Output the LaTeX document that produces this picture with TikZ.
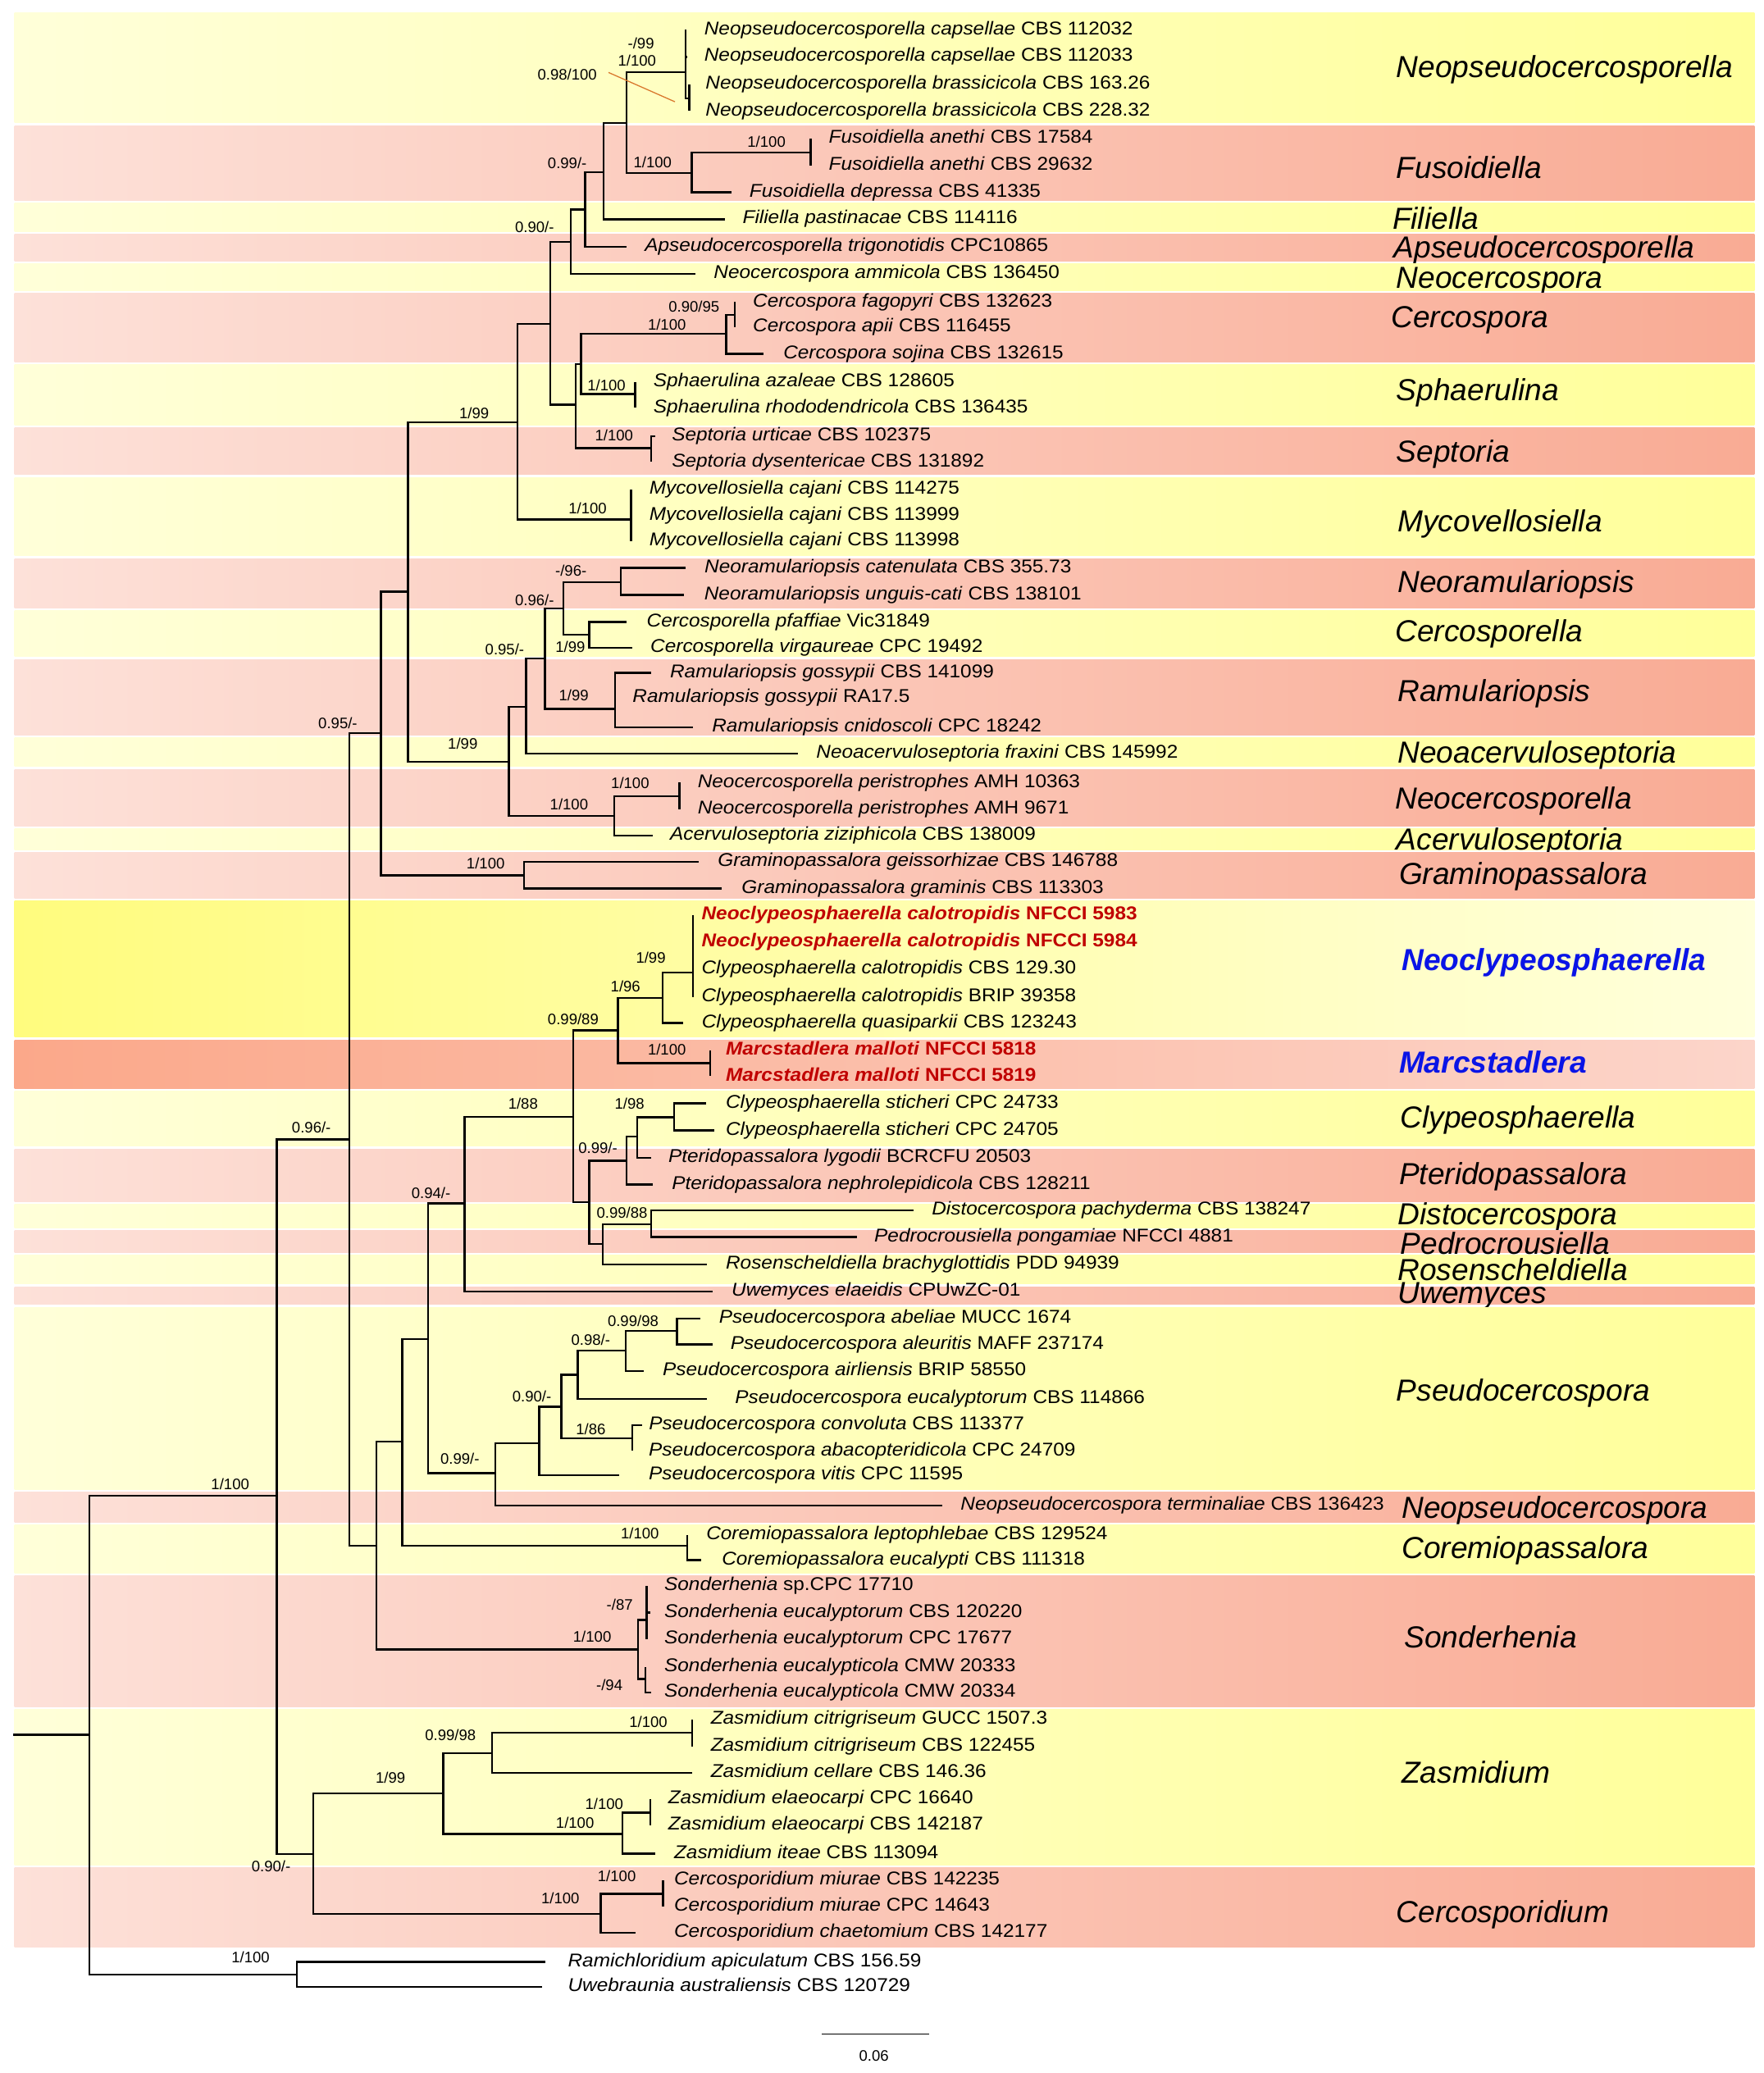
\documentclass[tikz,border=0pt]{standalone}
\usepackage{fontspec}
\setmainfont{Liberation Sans}
\newfontfamily\taxfont[FakeStretch=1.08]{Liberation Sans}

\definecolor{ylo}{HTML}{FFFFD9}
\definecolor{yhi}{HTML}{FFFF9A}
\definecolor{plo}{HTML}{FDE1D9}
\definecolor{phi}{HTML}{F9AB94}
\definecolor{ybright}{HTML}{FFFC7E}
\definecolor{ypale}{HTML}{FFFFDC}
\definecolor{pdeep}{HTML}{FBA88A}
\definecolor{ppale}{HTML}{FCD5CA}
\definecolor{newred}{HTML}{C00000}
\definecolor{genblue}{HTML}{0A14E6}
\definecolor{pointer}{HTML}{D9782D}

\newcommand{\taxon}[2]{\textit{#1} #2}

\tikzset{
  branch/.style={line width=1.5pt},
  leaf/.style={anchor=west, inner xsep=#1, inner ysep=0pt, text height=10pt, text depth=3pt,
    font=\taxfont\fontsize{14}{16}\selectfont},
  leaf/.default=13.5pt,
  newtaxon/.style={text=newred, font=\taxfont\fontsize{14}{16}\selectfont\bfseries},
  supp/.style={inner sep=0pt, text height=8.5pt, text depth=0pt, font=\fontsize{11.5}{13}\selectfont},
  genus/.style={anchor=west, inner sep=0pt, text height=16.5pt, text depth=0pt,
    font=\fontsize{23}{26}\selectfont\itshape},
  newgenus/.style={genus, text=genblue, font=\fontsize{23}{26}\selectfont\bfseries\itshape},
  yband/.style={left color=ylo, right color=yhi},
  pband/.style={left color=plo, right color=phi},
  nband/.style={left color=ybright, right color=ypale},
  mband/.style={left color=pdeep, right color=ppale},
}

\begin{document}
\begin{tikzpicture}[x=1pt, y=-1pt]
\useasboundingbox (0,0) rectangle (1334,1568);

% clade bands and genus names
\foreach \t/\b/\s/\f/\gx/\gy/\g [count=\i] in {
  8.5/94/yband/genus/1056/50.6/Neopseudocercosporella,
  94/152.5/pband/genus/1056/126.6/Fusoidiella,
  152.5/176/yband/genus/1053/165.4/Filiella,
  176/198.6/pband/genus/1054/186.8/Apseudocercosporella,
  198.6/220.8/yband/genus/1056/209.7/Neocercospora,
  220.8/275/pband/genus/1052/239.4/Cercospora,
  275/322.5/yband/genus/1056/294.8/Sphaerulina,
  322.5/360/pband/genus/1056/341.1/Septoria,
  360/421.4/yband/genus/1057/393.7/Mycovellosiella,
  421.4/461/pband/genus/1057/440/Neoramulariopsis,
  461/497.8/yband/genus/1055/476.8/Cercosporella,
  497.8/557/pband/genus/1057/522.3/Ramulariopsis,
  557/580.9/yband/genus/1057/569/Neoacervuloseptoria,
  580.9/626/pband/genus/1055/603.4/Neocercosporella,
  626/643.8/yband/genus/1056/634.4/Acervuloseptoria,
  643.8/680.3/pband/genus/1058/660.4/Graminopassalora,
  680.3/785.6/nband/newgenus/1060/725.8/Neoclypeosphaerella,
  785.6/824.4/mband/newgenus/1058/803.3/Marcstadlera,
  824.4/868.1/yband/genus/1059/844.9/Clypeosphaerella,
  868.1/909.7/pband/genus/1058/887.5/Pteridopassalora,
  909.7/929.6/yband/genus/1057/918/Distocercospora,
  929.6/948.5/pband/genus/1059/940.2/Pedrocrousiella,
  948.5/972.3/yband/genus/1057/960.1/Rosenscheldiella,
  972.3/987.8/pband/genus/1057/977.8/Uwemyces,
  987.8/1127.4/yband/genus/1056/1051.5/Pseudocercospora,
  1127.4/1152.3/pband/genus/1060/1140.2/Neopseudocercospora,
  1152.3/1191.1/yband/genus/1060/1170.6/Coremiopassalora,
  1191.1/1292/pband/genus/1062/1238.2/Sonderhenia,
  1292/1411.6/yband/genus/1060/1340.7/Zasmidium,
  1411.6/1473.7/pband/genus/1056/1446/Cercosporidium}
{
  \shade[\s] (11,\t+1) rectangle (1327,\b-1);
  \node[\f] (g\i) at (\gx,\gy) {\g};
}

% internal nodes
\coordinate (nstub) at (10,1312);
\coordinate (nroot) at (67.6,1312);
\coordinate (nW) at (209.4,1131.5);
\coordinate (nOG) at (224.4,1493.5);
\coordinate (nV) at (264.2,861.8);
\coordinate (nAA) at (237.1,1402.5);
\coordinate (nT) at (288.1,554.5);
\coordinate (nX) at (284.7,1169);
\coordinate (nJ) at (308.6,447.6);
\coordinate (nU) at (396.5,662);
\coordinate (nG) at (391.3,319.3);
\coordinate (nK) at (384.8,576.2);
\coordinate (nF) at (416.1,244.9);
\coordinate (nMyc) at (477.4,393);
\coordinate (nE) at (431.8,182.8);
\coordinate (nH) at (435.3,306);
\coordinate (nD) at (442.6,158.4);
\coordinate (nC) at (456.6,130.3);
\coordinate (nB) at (474,93);
\coordinate (nNpa) at (518.7,54.5);
\coordinate (nNpb) at (521.2,74.5);
\coordinate (nFus) at (523.1,130.7);
\coordinate (nFua) at (613.2,115.2);
\coordinate (nI) at (439.4,275.5);
\coordinate (nSep) at (492.3,339);
\coordinate (nCer) at (549.3,252.6);
\coordinate (nCea) at (555.8,238);
\coordinate (nSph) at (480.5,298);
\coordinate (nL) at (397.8,534.5);
\coordinate (nR) at (464.4,617);
\coordinate (nM) at (412.2,497.9);
\coordinate (nN) at (426.1,460.3);
\coordinate (nQ) at (465.3,536.3);
\coordinate (nO) at (469.6,440.3);
\coordinate (nP) at (445.7,480.2);
\coordinate (nS) at (514,602.1);
\coordinate (nY) at (304.2,1090.5);
\coordinate (nSo) at (482.5,1247.5);
\coordinate (nZ) at (323.8,1013);
\coordinate (nCor) at (519.7,1169.2);
\coordinate (nAJ) at (351.3,910.3);
\coordinate (nBA) at (374.7,1114.4);
\coordinate (nAK) at (433.5,844.7);
\coordinate (nAL) at (467.4,779.3);
\coordinate (nAP) at (445.7,909.4);
\coordinate (nAM) at (501,755);
\coordinate (nMar) at (537.1,804.2);
\coordinate (nAN) at (524,735.5);
\coordinate (nAQ) at (474,878);
\coordinate (nAT) at (455.7,940.9);
\coordinate (nAR) at (481.8,859.6);
\coordinate (nAS) at (509.7,845.2);
\coordinate (nAU) at (492.3,926);
\coordinate (nBB) at (407.9,1091.6);
\coordinate (nBC) at (424.6,1064.1);
\coordinate (nBD) at (478.2,1087.8);
\coordinate (nBE) at (437,1039.9);
\coordinate (nBF) at (473.2,1021.7);
\coordinate (nBG) at (511.9,1006.8);
\coordinate (nS1) at (489.1,1225.4);
\coordinate (nS2) at (488,1269.9);
\coordinate (nAB) at (335.2,1356.6);
\coordinate (nAG) at (454.3,1447.8);
\coordinate (nAC) at (372.3,1326);
\coordinate (nAE) at (470.9,1387.1);
\coordinate (nAD) at (523.5,1310.6);
\coordinate (nAF) at (492,1371);
\coordinate (nAH) at (501.4,1432.4);

% taxa
\node[leaf] (npcap1) at (519,23) {\taxon{Neopseudocercosporella capsellae}{CBS 112032}};
\node[leaf=12.7pt] (npcap2) at (519.8,43) {\taxon{Neopseudocercosporella capsellae}{CBS 112033}};
\node[leaf=12.3pt] (npbra1) at (521.2,64) {\taxon{Neopseudocercosporella brassicicola}{CBS 163.26}};
\node[leaf=12.3pt] (npbra2) at (521.2,84) {\taxon{Neopseudocercosporella brassicicola}{CBS 228.32}};
\node[leaf] (fuane1) at (613.2,105) {\taxon{Fusoidiella anethi}{CBS 17584}};
\node[leaf] (fuane2) at (613.2,125) {\taxon{Fusoidiella anethi}{CBS 29632}};
\node[leaf] (fudep) at (553.2,145.5) {\taxon{Fusoidiella depressa}{CBS 41335}};
\node[leaf] (fipas) at (548,165.8) {\taxon{Filiella pastinacae}{CBS 114116}};
\node[leaf] (aptri) at (474,186.8) {\taxon{Apseudocercosporella trigonotidis}{CPC10865}};
\node[leaf] (neamm) at (526.2,207) {\taxon{Neocercospora ammicola}{CBS 136450}};
\node[leaf] (cefag) at (555.8,228.5) {\taxon{Cercospora fagopyri}{CBS 132623}};
\node[leaf] (ceapi) at (555.8,247.5) {\taxon{Cercospora apii}{CBS 116455}};
\node[leaf=14.7pt] (cesoj) at (577.6,267.7) {\taxon{Cercospora sojina}{CBS 132615}};
\node[leaf] (spaza) at (480.5,289) {\taxon{Sphaerulina azaleae}{CBS 128605}};
\node[leaf] (sprho) at (480.5,308.5) {\taxon{Sphaerulina rhododendricola}{CBS 136435}};
\node[leaf=12.3pt] (seurt) at (495.7,330) {\taxon{Septoria urticae}{CBS 102375}};
\node[leaf=15.7pt] (sedys) at (492.3,349.5) {\taxon{Septoria dysentericae}{CBS 131892}};
\node[leaf] (mycaj1) at (477.4,370) {\taxon{Mycovellosiella cajani}{CBS 114275}};
\node[leaf] (mycaj2) at (477.4,390) {\taxon{Mycovellosiella cajani}{CBS 113999}};
\node[leaf] (mycaj3) at (477.4,409.5) {\taxon{Mycovellosiella cajani}{CBS 113998}};
\node[leaf=14.3pt] (nrcat) at (518.4,429.5) {\taxon{Neoramulariopsis catenulata}{CBS 355.73}};
\node[leaf=15pt] (nrung) at (517.5,450) {\taxon{Neoramulariopsis unguis-cati}{CBS 138101}};
\node[leaf=15pt] (cepfa) at (474,470.5) {\taxon{Cercosporella pfaffiae}{Vic31849}};
\node[leaf] (cevir) at (478.3,490) {\taxon{Cercosporella virgaureae}{CPC 19492}};
\node[leaf=14.3pt] (ragos1) at (492.3,509) {\taxon{Ramulariopsis gossypii}{CBS 141099}};
\node[leaf=13pt] (ragos2) at (465.3,528) {\taxon{Ramulariopsis gossypii}{RA17.5}};
\node[leaf=14.4pt] (racni) at (524,550) {\taxon{Ramulariopsis cnidoscoli}{CPC 18242}};
\node[leaf] (nafra) at (603.7,570) {\taxon{Neoacervuloseptoria fraxini}{CBS 145992}};
\node[leaf] (ncper1) at (514,592) {\taxon{Neocercosporella peristrophes}{AMH 10363}};
\node[leaf] (ncper2) at (514,612) {\taxon{Neocercosporella peristrophes}{AMH 9671}};
\node[leaf=13pt] (aczi) at (493.6,632) {\taxon{Acervuloseptoria ziziphicola}{CBS 138009}};
\node[leaf=14.3pt] (grgei) at (528.4,652) {\taxon{Graminopassalora geissorhizae}{CBS 146788}};
\node[leaf=15pt] (grgra) at (545.8,672) {\taxon{Graminopassalora graminis}{CBS 113303}};
\node[leaf=6.5pt, newtaxon] (nccal1) at (524,692) {\taxon{Neoclypeosphaerella calotropidis}{NFCCI 5983}};
\node[leaf=6.5pt, newtaxon] (nccal2) at (524,712.5) {\taxon{Neoclypeosphaerella calotropidis}{NFCCI 5984}};
\node[leaf=6.5pt] (clcal1) at (524,733) {\taxon{Clypeosphaerella calotropidis}{CBS 129.30}};
\node[leaf=6.5pt] (clcal2) at (524,754) {\taxon{Clypeosphaerella calotropidis}{BRIP 39358}};
\node[leaf=14pt] (clqua) at (516.6,773.8) {\taxon{Clypeosphaerella quasiparkii}{CBS 123243}};
\node[leaf=11.7pt, newtaxon] (mamal1) at (537.1,794.5) {\taxon{Marcstadlera malloti}{NFCCI 5818}};
\node[leaf=11.7pt, newtaxon] (mamal2) at (537.1,814) {\taxon{Marcstadlera malloti}{NFCCI 5819}};
\node[leaf=14.8pt] (clsti1) at (534,834.5) {\taxon{Clypeosphaerella sticheri}{CPC 24733}};
\node[leaf=8.7pt] (clsti2) at (540.1,855) {\taxon{Clypeosphaerella sticheri}{CPC 24705}};
\node[leaf=13pt] (ptlyg) at (492.3,875.7) {\taxon{Pteridopassalora lygodii}{BCRCFU 20503}};
\node[leaf=14.4pt] (ptnep) at (493.6,896) {\taxon{Pteridopassalora nephrolepidicola}{CBS 128211}};
\node[leaf=13.9pt] (dipac) at (690.7,915.6) {\taxon{Distocercospora pachyderma}{CBS 138247}};
\node[leaf=13.1pt] (pepon) at (648,935.6) {\taxon{Pedrocrousiella pongamiae}{NFCCI 4881}};
\node[leaf=13.9pt] (robra) at (534.9,956.4) {\taxon{Rosenscheldiella brachyglottidis}{PDD 94939}};
\node[leaf=14pt] (uwela) at (539.2,977) {\taxon{Uwemyces elaeidis}{CPUwZC-01}};
\node[leaf=14.1pt] (psabe) at (529.5,997.5) {\taxon{Pseudocercospora abeliae}{MUCC 1674}};
\node[leaf] (psale) at (538.8,1017) {\taxon{Pseudocercospora aleuritis}{MAFF 237174}};
\node[leaf=13.9pt] (psair) at (487.1,1037) {\taxon{Pseudocercospora airliensis}{BRIP 58550}};
\node[leaf=21.2pt] (pseuc) at (534.6,1058) {\taxon{Pseudocercospora eucalyptorum}{CBS 114866}};
\node[leaf=5pt] (pscon) at (485.6,1078) {\taxon{Pseudocercospora convoluta}{CBS 113377}};
\node[leaf=12.3pt] (psaba) at (478.2,1097.5) {\taxon{Pseudocercospora abacopteridicola}{CPC 24709}};
\node[leaf=22pt] (psvit) at (468.5,1116) {\taxon{Pseudocercospora vitis}{CPC 11595}};
\node[leaf=13.9pt] (npter) at (712.5,1138.8) {\taxon{Neopseudocercospora terminaliae}{CBS 136423}};
\node[leaf=14.3pt] (colep) at (519.7,1161) {\taxon{Coremiopassalora leptophlebae}{CBS 129524}};
\node[leaf=15.3pt] (coeuc) at (530.5,1180) {\taxon{Coremiopassalora eucalypti}{CBS 111318}};
\node[leaf=13.2pt] (sosp) at (489.1,1199.5) {\taxon{Sonderhenia}{sp.CPC 17710}};
\node[leaf=10.5pt] (soeuc1) at (491.8,1219.8) {\taxon{Sonderhenia eucalyptorum}{CBS 120220}};
\node[leaf=13.2pt] (soeuc2) at (489.1,1239.8) {\taxon{Sonderhenia eucalyptorum}{CPC 17677}};
\node[leaf=14.3pt] (soecl1) at (488,1260.7) {\taxon{Sonderhenia eucalypticola}{CMW 20333}};
\node[leaf=10.1pt] (soecl2) at (492.2,1280.3) {\taxon{Sonderhenia eucalypticola}{CMW 20334}};
\node[leaf=13.9pt] (zacit1) at (523.5,1300.5) {\taxon{Zasmidium citrigriseum}{GUCC 1507.3}};
\node[leaf=13.9pt] (zacit2) at (523.5,1321) {\taxon{Zasmidium citrigriseum}{CBS 122455}};
\node[leaf=13.9pt] (zacel) at (523.5,1341) {\taxon{Zasmidium cellare}{CBS 146.36}};
\node[leaf=13.2pt] (zaela1) at (492,1361) {\taxon{Zasmidium elaeocarpi}{CPC 16640}};
\node[leaf=13.2pt] (zaela2) at (492,1380.5) {\taxon{Zasmidium elaeocarpi}{CBS 142187}};
\node[leaf=13.9pt] (zaite) at (495.8,1402) {\taxon{Zasmidium iteae}{CBS 113094}};
\node[leaf=8.3pt] (cemiu1) at (501.4,1422) {\taxon{Cercosporidium miurae}{CBS 142235}};
\node[leaf=8.3pt] (cemiu2) at (501.4,1441.8) {\taxon{Cercosporidium miurae}{CPC 14643}};
\node[leaf=28.8pt] (cecha) at (480.9,1462) {\taxon{Cercosporidium chaetomium}{CBS 142177}};
\node[leaf=16.7pt] (raapi) at (412.7,1484) {\taxon{Ramichloridium apiculatum}{CBS 156.59}};
\node[leaf=19.4pt] (uwaus) at (410,1503) {\taxon{Uwebraunia australiensis}{CBS 120729}};

% branches between internal nodes
\draw[branch] (nstub) -- (nroot);
\foreach \p/\c in {nroot/nW, nroot/nOG, nW/nV, nW/nAA, nV/nT, nV/nX, nT/nJ, nT/nU,
  nJ/nG, nJ/nK, nG/nF, nG/nMyc, nF/nE, nF/nH, nE/nD, nD/nC, nC/nB, nB/nNpa, nB/nFus,
  nNpa/nNpb, nFus/nFua, nH/nI, nH/nSep, nI/nCer, nI/nSph, nCer/nCea, nK/nL, nK/nR,
  nL/nM, nM/nN, nM/nQ, nN/nO, nN/nP, nR/nS, nX/nY, nX/nSo, nY/nZ, nY/nCor,
  nZ/nAJ, nZ/nBA, nAJ/nAK, nAK/nAL, nAK/nAP, nAL/nAM, nAL/nMar, nAM/nAN,
  nAP/nAQ, nAP/nAT, nAQ/nAR, nAR/nAS, nAT/nAU, nBA/nBB, nBB/nBC, nBC/nBE, nBC/nBD,
  nBE/nBF, nBF/nBG, nSo/nS1, nSo/nS2, nAA/nAB, nAA/nAG, nAB/nAC, nAB/nAE,
  nAC/nAD, nAE/nAF, nAG/nAH}
  \draw[branch] (\p) |- (\c);

% branches to the taxa
\foreach \p/\c in {nNpa/npcap1, nNpa/npcap2, nNpb/npbra1, nNpb/npbra2, nFua/fuane1, nFua/fuane2,
  nFus/fudep, nC/fipas, nD/aptri, nE/neamm, nCea/cefag, nCea/ceapi, nCer/cesoj,
  nSph/spaza, nSph/sprho, nSep/seurt, nSep/sedys, nMyc/mycaj1, nMyc/mycaj2, nMyc/mycaj3,
  nO/nrcat, nO/nrung, nP/cepfa, nP/cevir, nQ/ragos1, nQ/ragos2, nQ/racni, nL/nafra,
  nS/ncper1, nS/ncper2, nR/aczi, nU/grgei, nU/grgra,
  nAN/nccal1, nAN/nccal2, nAN/clcal1, nAN/clcal2, nAM/clqua, nMar/mamal1, nMar/mamal2,
  nAS/clsti1, nAS/clsti2, nAR/ptlyg, nAQ/ptnep, nAU/dipac, nAU/pepon, nAT/robra, nAJ/uwela,
  nBG/psabe, nBG/psale, nBF/psair, nBE/pseuc, nBD/pscon, nBD/psaba, nBB/psvit, nBA/npter,
  nCor/colep, nCor/coeuc, nS1/sosp, nS1/soeuc1, nS1/soeuc2, nS2/soecl1, nS2/soecl2,
  nAD/zacit1, nAD/zacit2, nAC/zacel, nAF/zaela1, nAF/zaela2, nAE/zaite,
  nAH/cemiu1, nAH/cemiu2, nAG/cecha, nOG/raapi, nOG/uwaus}
  \draw[branch] (\p) |- (\c.west);

% pointer to the brassicicola pair
\coordinate (ptrA) at (460.2,54.8);
\coordinate (ptrB) at (510.5,77);
\draw[pointer, line width=0.8pt] (ptrA) -- (ptrB);

% support values
\node[supp] (b1) at (484.8,32.8) {-/99};
\node[supp] (b2) at (481.8,45.4) {1/100};
\node[supp] (b3) at (429,56) {0.98/100};
\node[supp] (b4) at (579.7,107) {1/100};
\node[supp] (b5) at (493.6,122.5) {1/100};
\node[supp] (b6) at (429,123) {0.99/-};
\node[supp] (b7) at (404.3,171.7) {0.90/-};
\node[supp] (b8) at (524.9,231.6) {0.90/95};
\node[supp] (b9) at (504.4,245.5) {1/100};
\node[supp] (b10) at (458.7,291.4) {1/100};
\node[supp] (b11) at (358.6,312.5) {1/99};
\node[supp] (b12) at (464.4,329) {1/100};
\node[supp] (b13) at (444.4,384.2) {1/100};
\node[supp] (b14) at (431.8,431.4) {-/96-};
\node[supp] (b15) at (404.3,453.6) {0.96/-};
\node[supp] (b16) at (431.3,489) {1/99};
\node[supp] (b17) at (381.7,491.3) {0.95/-};
\node[supp] (b18) at (434,526) {1/99};
\node[supp] (b19) at (255.5,546.7) {0.95/-};
\node[supp] (b20) at (350,562.2) {1/99};
\node[supp] (b21) at (476.6,592.1) {1/100};
\node[supp] (b22) at (430.4,608.3) {1/100};
\node[supp] (b23) at (367.3,653) {1/100};
\node[supp] (b24) at (492.2,724.4) {1/99};
\node[supp] (b25) at (473.1,745.9) {1/96};
\node[supp] (b26) at (433.5,770.5) {0.99/89};
\node[supp] (b27) at (504.4,793.8) {1/100};
\node[supp] (b28) at (395.6,834.5) {1/88};
\node[supp] (b29) at (476.1,834.5) {1/98};
\node[supp] (b30) at (235.5,852.9) {0.96/-};
\node[supp] (b31) at (452.2,868) {0.99/-};
\node[supp] (b32) at (326,902) {0.94/-};
\node[supp] (b33) at (470.5,917.2) {0.99/88};
\node[supp] (b34) at (478.8,998.9) {0.99/98};
\node[supp] (b35) at (446.8,1013.4) {0.98/-};
\node[supp] (b36) at (402.3,1055.8) {0.90/-};
\node[supp] (b37) at (446.8,1080.6) {1/86};
\node[supp] (b38) at (347.8,1103.4) {0.99/-};
\node[supp] (b39) at (484,1159.6) {1/100};
\node[supp] (b40) at (174.1,1122.3) {1/100};
\node[supp] (b41) at (468.7,1213.5) {-/87};
\node[supp] (b42) at (447.9,1237.9) {1/100};
\node[supp] (b43) at (460.9,1274.4) {-/94};
\node[supp] (b44) at (490.3,1302.4) {1/100};
\node[supp] (b45) at (340.7,1312.3) {0.99/98};
\node[supp] (b46) at (295.3,1344.2) {1/99};
\node[supp] (b47) at (457,1364.5) {1/100};
\node[supp] (b48) at (434.9,1378.4) {1/100};
\node[supp] (b49) at (205,1411.2) {0.90/-};
\node[supp] (b50) at (466.5,1418.7) {1/100};
\node[supp] (b51) at (423.8,1435.6) {1/100};
\node[supp] (b52) at (189.5,1480.3) {1/100};

% scale bar
\coordinate (sbl) at (621.6,1538.5);
\coordinate (sbr) at (702.5,1538.5);
\draw[line width=1.2pt] (sbl) -- (sbr);
\node[supp] (sblab) at (661,1554.6) {0.06};
\end{tikzpicture}
\end{document}
